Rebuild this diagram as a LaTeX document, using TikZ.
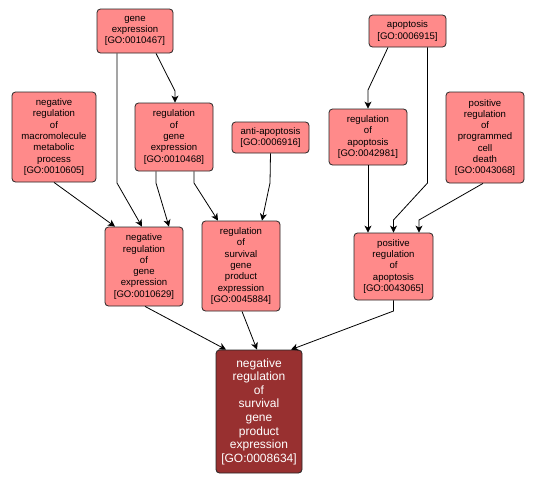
\documentclass[tikz,border=0pt]{standalone}
\usepackage{fontspec}
\setmainfont{Liberation Sans}
\usetikzlibrary{arrows.meta}
\definecolor{lred}{HTML}{FF8A8A}
\definecolor{dred}{HTML}{983030}
\tikzset{
  term/.style={draw=black!85, line width=0.8pt, fill=lred, rounded corners=3.5pt, inner sep=0pt,
    align=center, font=\fontsize{9.6pt}{11.3pt}\selectfont, text=black},
  mainterm/.style={term, fill=dred, text=white, font=\fontsize{12pt}{13.6pt}\selectfont},
  edge/.style={draw=black, line width=0.8pt, -{Stealth[length=7pt,width=7pt,inset=2pt]}}
}
\begin{document}
\begin{tikzpicture}[x=1pt,y=-1pt]
\useasboundingbox (0,0) rectangle (536,482);
\node[term, minimum width=76pt, minimum height=44pt] (ge) at (135,31) {gene\\expression\\{[GO:0010467]}};
\node[term, minimum width=84pt, minimum height=90pt] (nrmm) at (54,137) {negative\\regulation\\of\\macromolecule\\metabolic\\process\\{[GO:0010605]}};
\node[term, minimum width=78pt, minimum height=68pt] (rge) at (174,137) {regulation\\of\\gene\\expression\\{[GO:0010468]}};
\node[term, minimum width=77pt, minimum height=31pt] (aa) at (270.5,137.5) {anti-apoptosis\\{[GO:0006916]}};
\node[term, minimum width=77pt, minimum height=32pt] (apo) at (407.5,31) {apoptosis\\{[GO:0006915]}};
\node[term, minimum width=78pt, minimum height=56pt] (rapo) at (368,137) {regulation\\of\\apoptosis\\{[GO:0042981]}};
\node[term, minimum width=78pt, minimum height=91pt] (prpcd) at (485,137.5) {positive\\regulation\\of\\programmed\\cell\\death\\{[GO:0043068]}};
\node[term, minimum width=78pt, minimum height=79pt] (nrge) at (144,266.5) {negative\\regulation\\of\\gene\\expression\\{[GO:0010629]}};
\node[term, minimum width=78pt, minimum height=90pt] (rsg) at (241,266) {regulation\\of\\survival\\gene\\product\\expression\\{[GO:0045884]}};
\node[term, minimum width=79pt, minimum height=67pt] (prapo) at (393.5,266.5) {positive\\regulation\\of\\apoptosis\\{[GO:0043065]}};
\node[mainterm, minimum width=86pt, minimum height=123pt] (bot) at (259,411.5) {negative\\regulation\\of\\survival\\gene\\product\\expression\\{[GO:0008634]}};

\coordinate (b1) at (175,91);
\coordinate (b2) at (117,183);
\coordinate (b3) at (156,183);
\coordinate (b4) at (194,183);
\coordinate (b5) at (270,183);
\coordinate (b6) at (368,90);
\coordinate (b7) at (427.5,183);
\coordinate (b8) at (393.5,220);
\coordinate (b9) at (419,220);
\coordinate (b10) at (393.5,311);

\draw[edge] ([xshift=21pt]ge.south) -- (b1) -- ([xshift=1pt]rge.north);
\draw[edge] ([xshift=-18pt]ge.south) -- (b2) -- ([xshift=-2pt]nrge.north);
\draw[edge] (nrmm.south) -- ([xshift=-29pt]nrge.north);
\draw[edge] ([xshift=-18pt]rge.south) -- (b3) -- ([xshift=25pt]nrge.north);
\draw[edge] ([xshift=20pt]rge.south) -- (b4) -- ([xshift=-23pt]rsg.north);
\draw[edge] (aa.south) -- (b5) -- ([xshift=21pt]rsg.north);
\draw[edge] ([xshift=-19.5pt]apo.south) -- (b6) -- (rapo.north);
\draw[edge] ([xshift=20pt]apo.south) -- (b7) -- (b8) -- (prapo.north);
\draw[edge] (rapo.south) -- ([xshift=-25.5pt]prapo.north);
\draw[edge] ([xshift=-2pt]prpcd.south) -- (b9) -- ([xshift=25.5pt]prapo.north);
\draw[edge] ([xshift=1pt]nrge.south) -- ([xshift=-33pt]bot.north);
\draw[edge] ([xshift=1pt]rsg.south) -- ([xshift=-2pt]bot.north);
\draw[edge] (prapo.south) -- (b10) -- ([xshift=32pt]bot.north);
\end{tikzpicture}
\end{document}
